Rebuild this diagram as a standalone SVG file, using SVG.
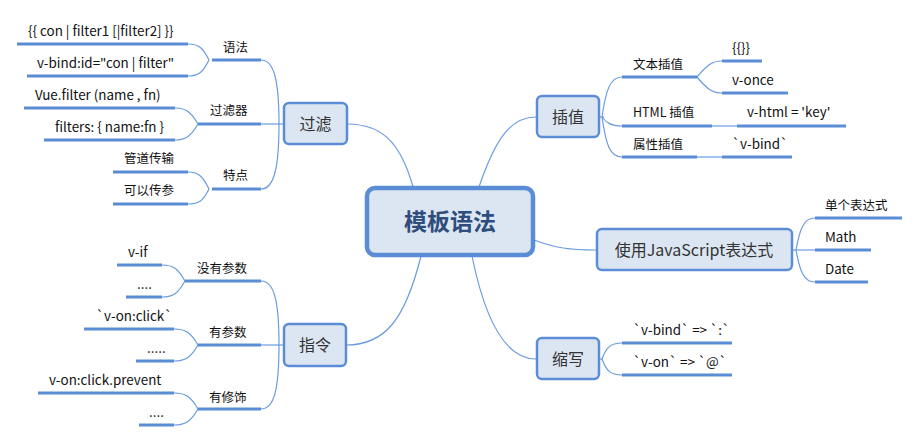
<svg xmlns="http://www.w3.org/2000/svg" width="920" height="442" viewBox="0 0 920 442">
<style>
.bg{fill:#ffffff}
.node rect{fill:#dce6f2;stroke:#5b8dd6;stroke-width:2.5}
.main rect{stroke-width:4.5}
.nt{font-family:"Noto Sans CJK SC","Liberation Sans",sans-serif;font-size:16px;fill:#333333;text-anchor:middle}
.mt{font-family:"Noto Sans CJK SC","Liberation Sans",sans-serif;font-size:23px;font-weight:bold;fill:#2e4d7c;text-anchor:middle}
.lt{font-family:"Noto Sans CJK SC","Liberation Sans",sans-serif;font-size:12.5px;fill:#111111}
.la{font-size:13.4px}
.ul{stroke:#5b8dd6;stroke-width:3;fill:none}
.cn{stroke:#6a9be0;stroke-width:1.2;fill:none}
</style>
<rect class="bg" x="0" y="0" width="920" height="442"/>

<g id="connectors">
  <path class="cn" d="M413,187 C400,140 380,124 347,124"/>
  <path class="cn" d="M479,187 C495,140 510,117 536,117"/>
  <path class="cn" d="M534,240 C555,248 570,250 596,250"/>
  <path class="cn" d="M421,256 C405,320 385,345 346,345"/>
  <path class="cn" d="M472,256 C485,320 505,359 536,359"/>
  <path class="cn" d="M283,124 L261,124"/>
  <path class="cn" d="M279,124 C279,80 274,60 261,60"/>
  <path class="cn" d="M279,124 C279,168 274,189 261,189"/>
  <path class="cn" d="M209,60 C203,48 199,44 188,44"/>
  <path class="cn" d="M209,60 C203,72 199,76 188,76"/>
  <path class="cn" d="M198,124 C191,112 186,108 175,108"/>
  <path class="cn" d="M198,124 C191,136 186,140 175,140"/>
  <path class="cn" d="M209,189 C203,177 199,172 188,172"/>
  <path class="cn" d="M209,189 C203,201 199,204 188,204"/>
  <path class="cn" d="M283,345 L261,345"/>
  <path class="cn" d="M279,345 C279,300 274,281 261,281"/>
  <path class="cn" d="M279,345 C279,390 274,409 261,409"/>
  <path class="cn" d="M185,281 C178,269 174,265 162,265"/>
  <path class="cn" d="M185,281 C178,293 174,297 162,297"/>
  <path class="cn" d="M198,345 C191,333 186,329 174,329"/>
  <path class="cn" d="M198,345 C191,357 186,361 174,361"/>
  <path class="cn" d="M198,409 C191,397 186,393 174,393"/>
  <path class="cn" d="M198,409 C191,421 186,425 174,425"/>
  <path class="cn" d="M599,117 L604,117"/>
  <path class="cn" d="M602,117 C606,90 610,77 622,77"/>
  <path class="cn" d="M602,117 C606,122 610,126 622,126"/>
  <path class="cn" d="M602,117 C606,145 610,157 622,157"/>
  <path class="cn" d="M697,77 C707,65 712,61 722,61"/>
  <path class="cn" d="M697,77 C707,89 712,93 722,93"/>
  <path class="cn" d="M712,126 L737,126"/>
  <path class="cn" d="M697,157 L722,157"/>
  <path class="cn" d="M792,250 L815,250"/>
  <path class="cn" d="M796,250 C800,228 804,218 815,218"/>
  <path class="cn" d="M796,250 C800,272 804,282 815,282"/>
  <path class="cn" d="M599,359 L603,359"/>
  <path class="cn" d="M602,359 C606,348 610,343 622,343"/>
  <path class="cn" d="M602,359 C606,370 610,375 622,375"/>
</g>

<g id="center" class="node main">
  <rect x="367" y="188" width="166" height="67" rx="8"/>
  <text class="mt" x="450" y="230">模板语法</text>
</g>

<g id="n-guolv" class="node">
  <rect x="284" y="103" width="63" height="41" rx="5"/>
  <text class="nt" x="315.5" y="129.5">过滤</text>
</g>
<g id="n-yufa">
  <line class="ul" x1="212" y1="60" x2="261" y2="60"/>
  <text class="lt" x="223" y="52">语法</text>
</g>
<g id="n-yufa-1">
  <line class="ul" x1="17" y1="44" x2="188" y2="44"/>
  <text class="lt la" x="28" y="36">{{ con | filter1 [|filter2] }}</text>
</g>
<g id="n-yufa-2">
  <line class="ul" x1="27" y1="76" x2="188" y2="76"/>
  <text class="lt la" x="37" y="68">v-bind:id="con | filter"</text>
</g>
<g id="n-glq">
  <line class="ul" x1="198" y1="124" x2="261" y2="124"/>
  <text class="lt" x="210" y="115">过滤器</text>
</g>
<g id="n-glq-1">
  <line class="ul" x1="24" y1="108" x2="175" y2="108"/>
  <text class="lt la" x="35" y="100">Vue.filter (name , fn)</text>
</g>
<g id="n-glq-2">
  <line class="ul" x1="44" y1="140" x2="175" y2="140"/>
  <text class="lt la" x="55" y="132">filters: { name:fn }</text>
</g>
<g id="n-td">
  <line class="ul" x1="212" y1="189" x2="261" y2="189"/>
  <text class="lt" x="223" y="180">特点</text>
</g>
<g id="n-td-1">
  <line class="ul" x1="113" y1="172" x2="188" y2="172"/>
  <text class="lt" x="124" y="163">管道传输</text>
</g>
<g id="n-td-2">
  <line class="ul" x1="113" y1="204" x2="188" y2="204"/>
  <text class="lt" x="124" y="195">可以传参</text>
</g>

<g id="n-zhiling" class="node">
  <rect x="284" y="324" width="62" height="42" rx="5"/>
  <text class="nt" x="315" y="350.5">指令</text>
</g>
<g id="n-mycs">
  <line class="ul" x1="185" y1="281" x2="261" y2="281"/>
  <text class="lt" x="197" y="273">没有参数</text>
</g>
<g id="n-mycs-1">
  <line class="ul" x1="117" y1="265" x2="162" y2="265"/>
  <text class="lt la" x="128" y="257">v-if</text>
</g>
<g id="n-mycs-2">
  <line class="ul" x1="126" y1="297" x2="162" y2="297"/>
  <text class="lt la" x="137" y="289">....</text>
</g>
<g id="n-ycs">
  <line class="ul" x1="198" y1="345" x2="261" y2="345"/>
  <text class="lt" x="209" y="337">有参数</text>
</g>
<g id="n-ycs-1">
  <line class="ul" x1="84" y1="329" x2="174" y2="329"/>
  <text class="lt la" x="96" y="321">`v-on:click`</text>
</g>
<g id="n-ycs-2">
  <line class="ul" x1="136" y1="361" x2="174" y2="361"/>
  <text class="lt la" x="147" y="353">.....</text>
</g>
<g id="n-yxs">
  <line class="ul" x1="198" y1="409" x2="261" y2="409"/>
  <text class="lt" x="209" y="402">有修饰</text>
</g>
<g id="n-yxs-1">
  <line class="ul" x1="38" y1="393" x2="174" y2="393"/>
  <text class="lt la" x="49" y="385">v-on:click.prevent</text>
</g>
<g id="n-yxs-2">
  <line class="ul" x1="139" y1="425" x2="174" y2="425"/>
  <text class="lt la" x="149" y="417">....</text>
</g>

<g id="n-chazhi" class="node">
  <rect x="537" y="96" width="62" height="41" rx="5"/>
  <text class="nt" x="568" y="122.5">插值</text>
</g>
<g id="n-wbcz">
  <line class="ul" x1="622" y1="77" x2="697" y2="77"/>
  <text class="lt" x="633" y="69">文本插值</text>
</g>
<g id="n-wbcz-1">
  <line class="ul" x1="722" y1="61" x2="762" y2="61"/>
  <text class="lt la" x="732" y="53">{{}}</text>
</g>
<g id="n-wbcz-2">
  <line class="ul" x1="722" y1="93" x2="788" y2="93"/>
  <text class="lt la" x="732" y="85">v-once</text>
</g>
<g id="n-htmlcz">
  <line class="ul" x1="622" y1="126" x2="712" y2="126"/>
  <text class="lt" x="633" y="117" font-size="13">HTML 插值</text>
</g>
<g id="n-htmlcz-1">
  <line class="ul" x1="737" y1="126" x2="846" y2="126"/>
  <text class="lt la" x="747" y="117">v-html = 'key'</text>
</g>
<g id="n-sxcz">
  <line class="ul" x1="622" y1="157" x2="697" y2="157"/>
  <text class="lt" x="633" y="149">属性插值</text>
</g>
<g id="n-sxcz-1">
  <line class="ul" x1="722" y1="157" x2="792" y2="157"/>
  <text class="lt la" x="732" y="149">`v-bind`</text>
</g>

<g id="n-js" class="node">
  <rect x="597" y="229" width="195" height="41" rx="5"/>
  <text class="nt" x="694" y="255.5" font-size="16.5">使用JavaScript表达式</text>
</g>
<g id="n-js-1">
  <line class="ul" x1="815" y1="218" x2="902" y2="218"/>
  <text class="lt" x="825" y="210">单个表达式</text>
</g>
<g id="n-js-2">
  <line class="ul" x1="815" y1="250" x2="871" y2="250"/>
  <text class="lt la" x="825" y="242">Math</text>
</g>
<g id="n-js-3">
  <line class="ul" x1="815" y1="282" x2="868" y2="282"/>
  <text class="lt la" x="825" y="274">Date</text>
</g>

<g id="n-suoxie" class="node">
  <rect x="537" y="338" width="62" height="41" rx="5"/>
  <text class="nt" x="568" y="364.5">缩写</text>
</g>
<g id="n-sx-1">
  <line class="ul" x1="622" y1="343" x2="732" y2="343"/>
  <text class="lt la" x="633" y="335">`v-bind` =&gt; `:`</text>
</g>
<g id="n-sx-2">
  <line class="ul" x1="622" y1="375" x2="732" y2="375"/>
  <text class="lt la" x="633" y="367">`v-on` =&gt; `@`</text>
</g>
</svg>
